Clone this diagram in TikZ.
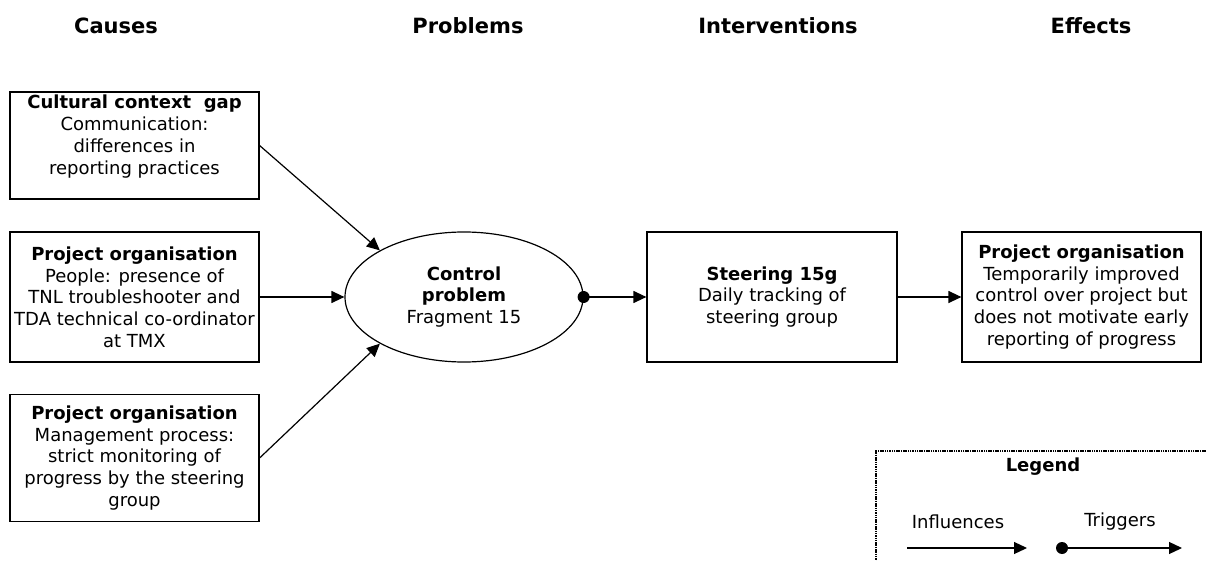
\documentclass[tikz,border=0pt]{standalone}
\usepackage{fontspec}
\setmainfont{DejaVu Sans}
\usetikzlibrary{arrows.meta,shapes.geometric}
\begin{document}
\begin{tikzpicture}[x=1pt,y=-1pt,
  every node/.style={font=\fontsize{18}{21.7}\selectfont, inner sep=0pt, align=center},
  header/.style={font=\fontsize{21}{25}\selectfont\bfseries},
  box/.style={draw, line width=1.2pt, rectangle, minimum width=#1},
  tall/.style={minimum height=#1},
  conn/.style={line width=1.2pt, -{Triangle[length=13pt,width=12pt]}},
  dotnode/.style={circle, fill=black, minimum size=12pt},
  legendframe/.style={line width=1.8pt, dash pattern=on 1.5pt off 0.8pt}
]
\useasboundingbox (0,0) rectangle (1206,561);

% column headings
\node[header] (hcause) at (116,26) {Causes};
\node[header] (hprob)  at (468,26) {Problems};
\node[header] (hint)   at (778,26) {Interventions};
\node[header] (heff)   at (1091,26) {Effects};

% causes
\node[box=249, tall=107] (c1) at (134.5,145.5)
  {\textbf{Cultural context\ \ gap}\\Communication:\\differences in\\reporting practices\\\mbox{}};
\node[box=249, tall=130] (c2) at (134.5,297)
  {\textbf{Project organisation}\\People: presence of\\TNL troubleshooter and\\TDA technical co-ordinator\\at TMX};
\node[box=249, tall=127] (c3) at (134.5,458)
  {\textbf{Project organisation}\\Management process:\\strict monitoring of\\progress by the steering\\group};

% problem
\node[draw, line width=1.2pt, ellipse, minimum width=238, minimum height=130] (ell) at (464,297)
  {\textbf{Control}\\\textbf{problem}\\Fragment 15};

% intervention
\node[box=250, tall=130] (steer) at (772,297)
  {\textbf{Steering 15g}\\Daily tracking of\\steering group};

% effect
\node[box=239, tall=130] (eff) at (1081.5,297)
  {\textbf{Project organisation}\\Temporarily improved\\control over project but\\does not motivate early\\reporting of progress};

% influences
\draw[conn] (c1.east) -- (ell.151);
\draw[conn] (c2.east) -- (ell.west);
\draw[conn] (c3.east) -- (ell.209);

% trigger
\node[dotnode] (d1) at (ell.east) {};
\draw[conn] (d1.center) -- (steer.west);
\draw[conn] (steer.east) -- (eff.west);

% legend
\begin{scope}
\clip (0,0) rectangle (1206,561);
\draw[legendframe] (1215,451) -- (876,451) -- (876,570);
\end{scope}
\node[font=\fontsize{18}{21.7}\selectfont\bfseries] (lgd) at (1043,467) {Legend};
\node (linf) at (958,522) {Influences};
\node (ltrg) at (1120,522) {Triggers};
\coordinate (li1) at (907,548);
\coordinate (li2) at (1027,548);
\node[dotnode] (d2) at (1062,548) {};
\coordinate (tr2) at (1182,548);
\draw[conn] (li1) -- (li2);
\draw[conn] (d2.center) -- (tr2);
\end{tikzpicture}
\end{document}
